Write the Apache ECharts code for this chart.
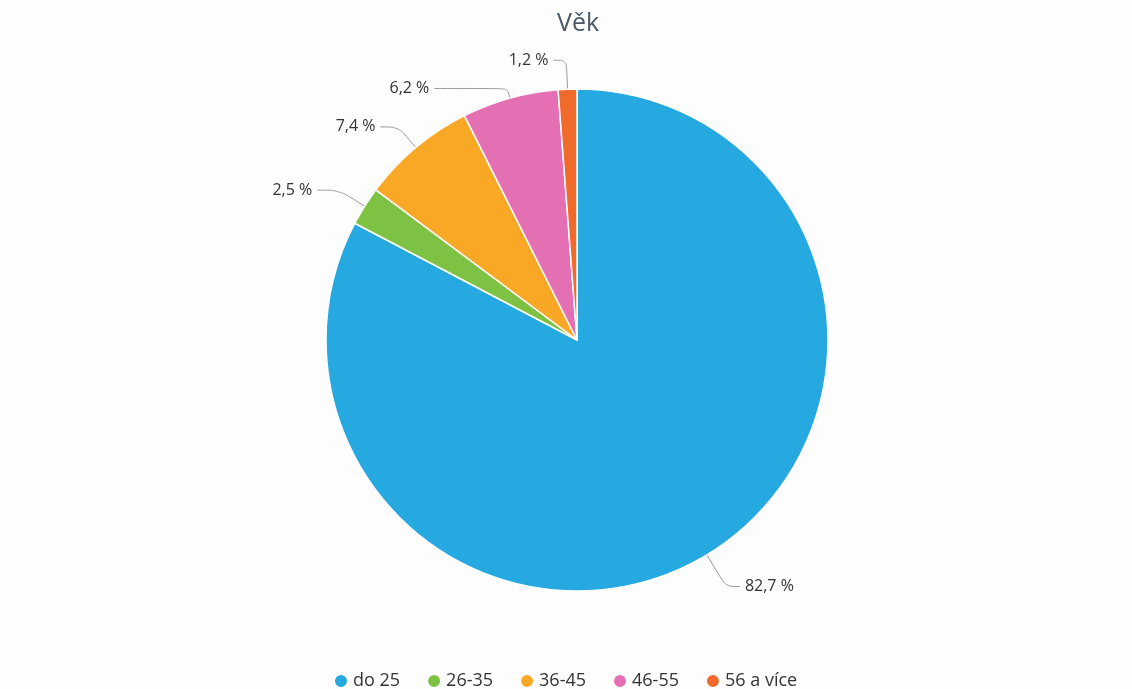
<!DOCTYPE html>
<html>
<head>
<meta charset="utf-8">
<script src="https://cdn.jsdelivr.net/npm/echarts@6/dist/echarts.min.js"></script>
<style>
  html, body { margin: 0; padding: 0; background: #fdfdfd; }
  #chart { width: 1132px; height: 689px; }
</style>
</head>
<body>
<div id="chart"></div>
<script>
// Věk – rozložení respondentů podle věku
const categories = ['do 25', '26-35', '36-45', '46-55', '56 a více']
const values = [82.7, 2.5, 7.4, 6.2, 1.2]
const colors = ['#25a9e0', '#7dc242', '#f9a825', '#e46fb3', '#f06a2c']

// délky spojnic popisků (radiální část, vodorovná část)
const lineLength = [37, 30, 27, 10, 29]
const lineLength2 = [14, 22, 18, 73, 13]

const chart = echarts.init(document.getElementById('chart'))

const option = {
  backgroundColor: '#fdfdfd',
  color: colors,
  textStyle: { fontFamily: 'Open Sans' },
  title: {
    text: 'Věk',
    left: 552,
    top: 6,
    textStyle: { color: '#4b5866', fontSize: 25, fontWeight: 'normal' }
  },
  legend: {
    data: categories,
    top: 672,
    left: 333,
    icon: 'circle',
    itemWidth: 14,
    itemHeight: 14,
    itemGap: 26,
    padding: 0,
    textStyle: { color: '#333', fontSize: 18 }
  },
  series: [
    {
      type: 'pie',
      center: [577, 340],
      radius: 251,
      startAngle: 90,
      clockwise: true,
      avoidLabelOverlap: false,
      data: categories.map((name, i) => ({
        name,
        value: values[i],
        labelLine: { length: lineLength[i], length2: lineLength2[i] }
      })),
      itemStyle: { borderColor: '#fff', borderWidth: 1.5 },
      label: {
        color: '#333',
        fontSize: 16,
        formatter: p => p.value.toFixed(1).replace('.', ',') + ' %'
      },
      labelLine: {
        smooth: 0.3,
        lineStyle: { color: '#999', width: 1 }
      },
      emphasis: { scale: false }
    }
  ]
}

chart.setOption(option)
</script>
</body>
</html>
